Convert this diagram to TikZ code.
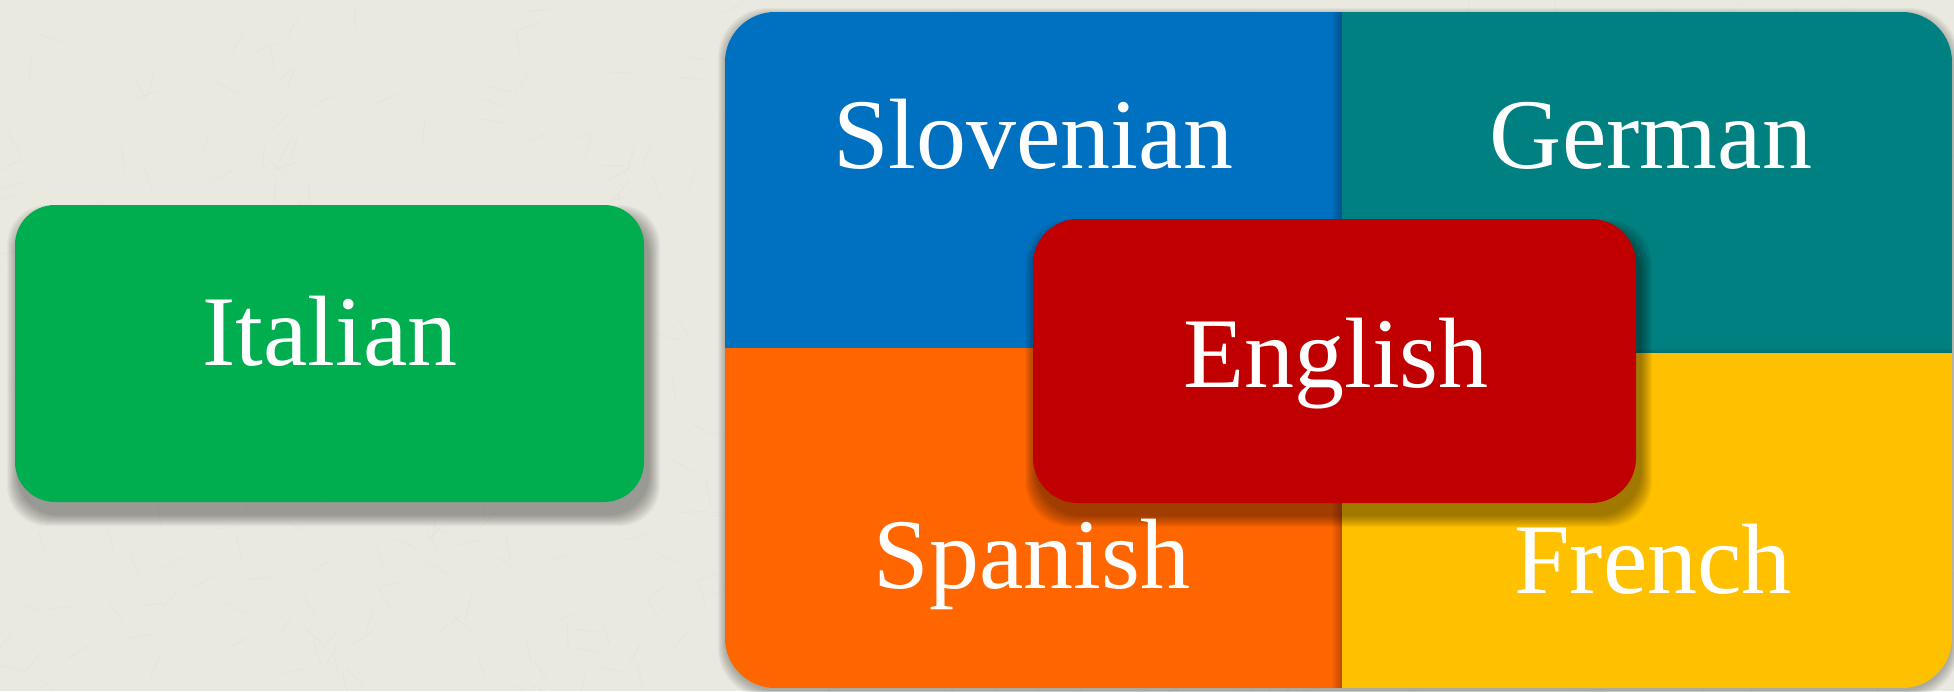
\documentclass[tikz,border=0pt]{standalone}
\usepackage{fontspec}
\setmainfont{Liberation Serif}
\definecolor{bgc}{HTML}{E9E9DF}
\definecolor{qblue}{HTML}{0070C0}
\definecolor{qteal}{HTML}{008080}
\definecolor{qorange}{HTML}{FF6600}
\definecolor{qyellow}{HTML}{FFC000}
\definecolor{qred}{HTML}{C00000}
\definecolor{qgreen}{HTML}{00AE4F}
\begin{document}
\begin{tikzpicture}[x=1pt,y=-1pt,
  box/.style={inner sep=0pt, outer sep=0pt, draw=none},
  lbl/.style={text=white, font=\fontsize{100}{115}\selectfont, inner sep=0pt, anchor=base}]
\useasboundingbox (0,0) rectangle (1954,691);
\fill[bgc] (0,0) rectangle (1954,691);
% subtle canvas texture
\pgfmathsetseed{7}
\foreach \k in {1,...,700}{
  \pgfmathsetmacro{\xa}{rnd*1954}
  \pgfmathsetmacro{\ya}{rnd*691}
  \pgfmathsetmacro{\ang}{rnd*180}
  \draw[black!50, opacity=0.05, line width=0.6pt] (\xa,\ya) -- ++(\ang:25);
}
% shadow of the big block
\foreach \i in {1,...,8}
  \fill[black,opacity=0.035,rounded corners=50pt] (725-\i+1,12-\i+4) rectangle (1952+\i-1,688+\i+2);
\begin{scope}
  \clip[rounded corners=50pt] (725,12) rectangle (1952,688);
  \fill[qblue] (725,12) rectangle (1342,348);
  \fill[qorange] (725,348) rectangle (1342,688);
  \foreach \i in {1,...,10}
    \fill[black,opacity=0.025] (1342-\i,12) rectangle (1342,688);
  \fill[qteal] (1342,12) rectangle (1952,353);
  \fill[qyellow] (1342,353) rectangle (1952,688);
  \foreach \i in {1,...,4}
    \fill[black,opacity=0.03] (1342,353-\i) rectangle (1952,353);
  % shadow of English
  \foreach \i in {1,...,12}
    \fill[black,opacity=0.035,rounded corners=45pt] (1033-\i+4,219-\i+12) rectangle (1636+\i+4,503+\i+12);
\end{scope}
\node[lbl] (slovenian) at (1033,168) {Slovenian};
\node[lbl] (german) at (1651,168) {German};
\node[lbl] (spanish) at (1032,588) {Spanish};
\node[lbl] (french) at (1653,593) {French};
% English
\node[box, fill=qred, rounded corners=45pt, minimum width=603pt, minimum height=284pt] (english) at (1334.5,361) {};
\node[lbl] (englishtxt) at (1336,387) {English};
% Italian
\foreach \i in {1,...,12}
  \fill[black,opacity=0.03,rounded corners=40pt] (15-\i+4,205-\i+12) rectangle (644+\i+4,502+\i+12);
\node[box, fill=qgreen, rounded corners=40pt, minimum width=629pt, minimum height=297pt] (italian) at (329.5,353.5) {};
\node[lbl] (italiantxt) at (330,365) {Italian};
\end{tikzpicture}
\end{document}
